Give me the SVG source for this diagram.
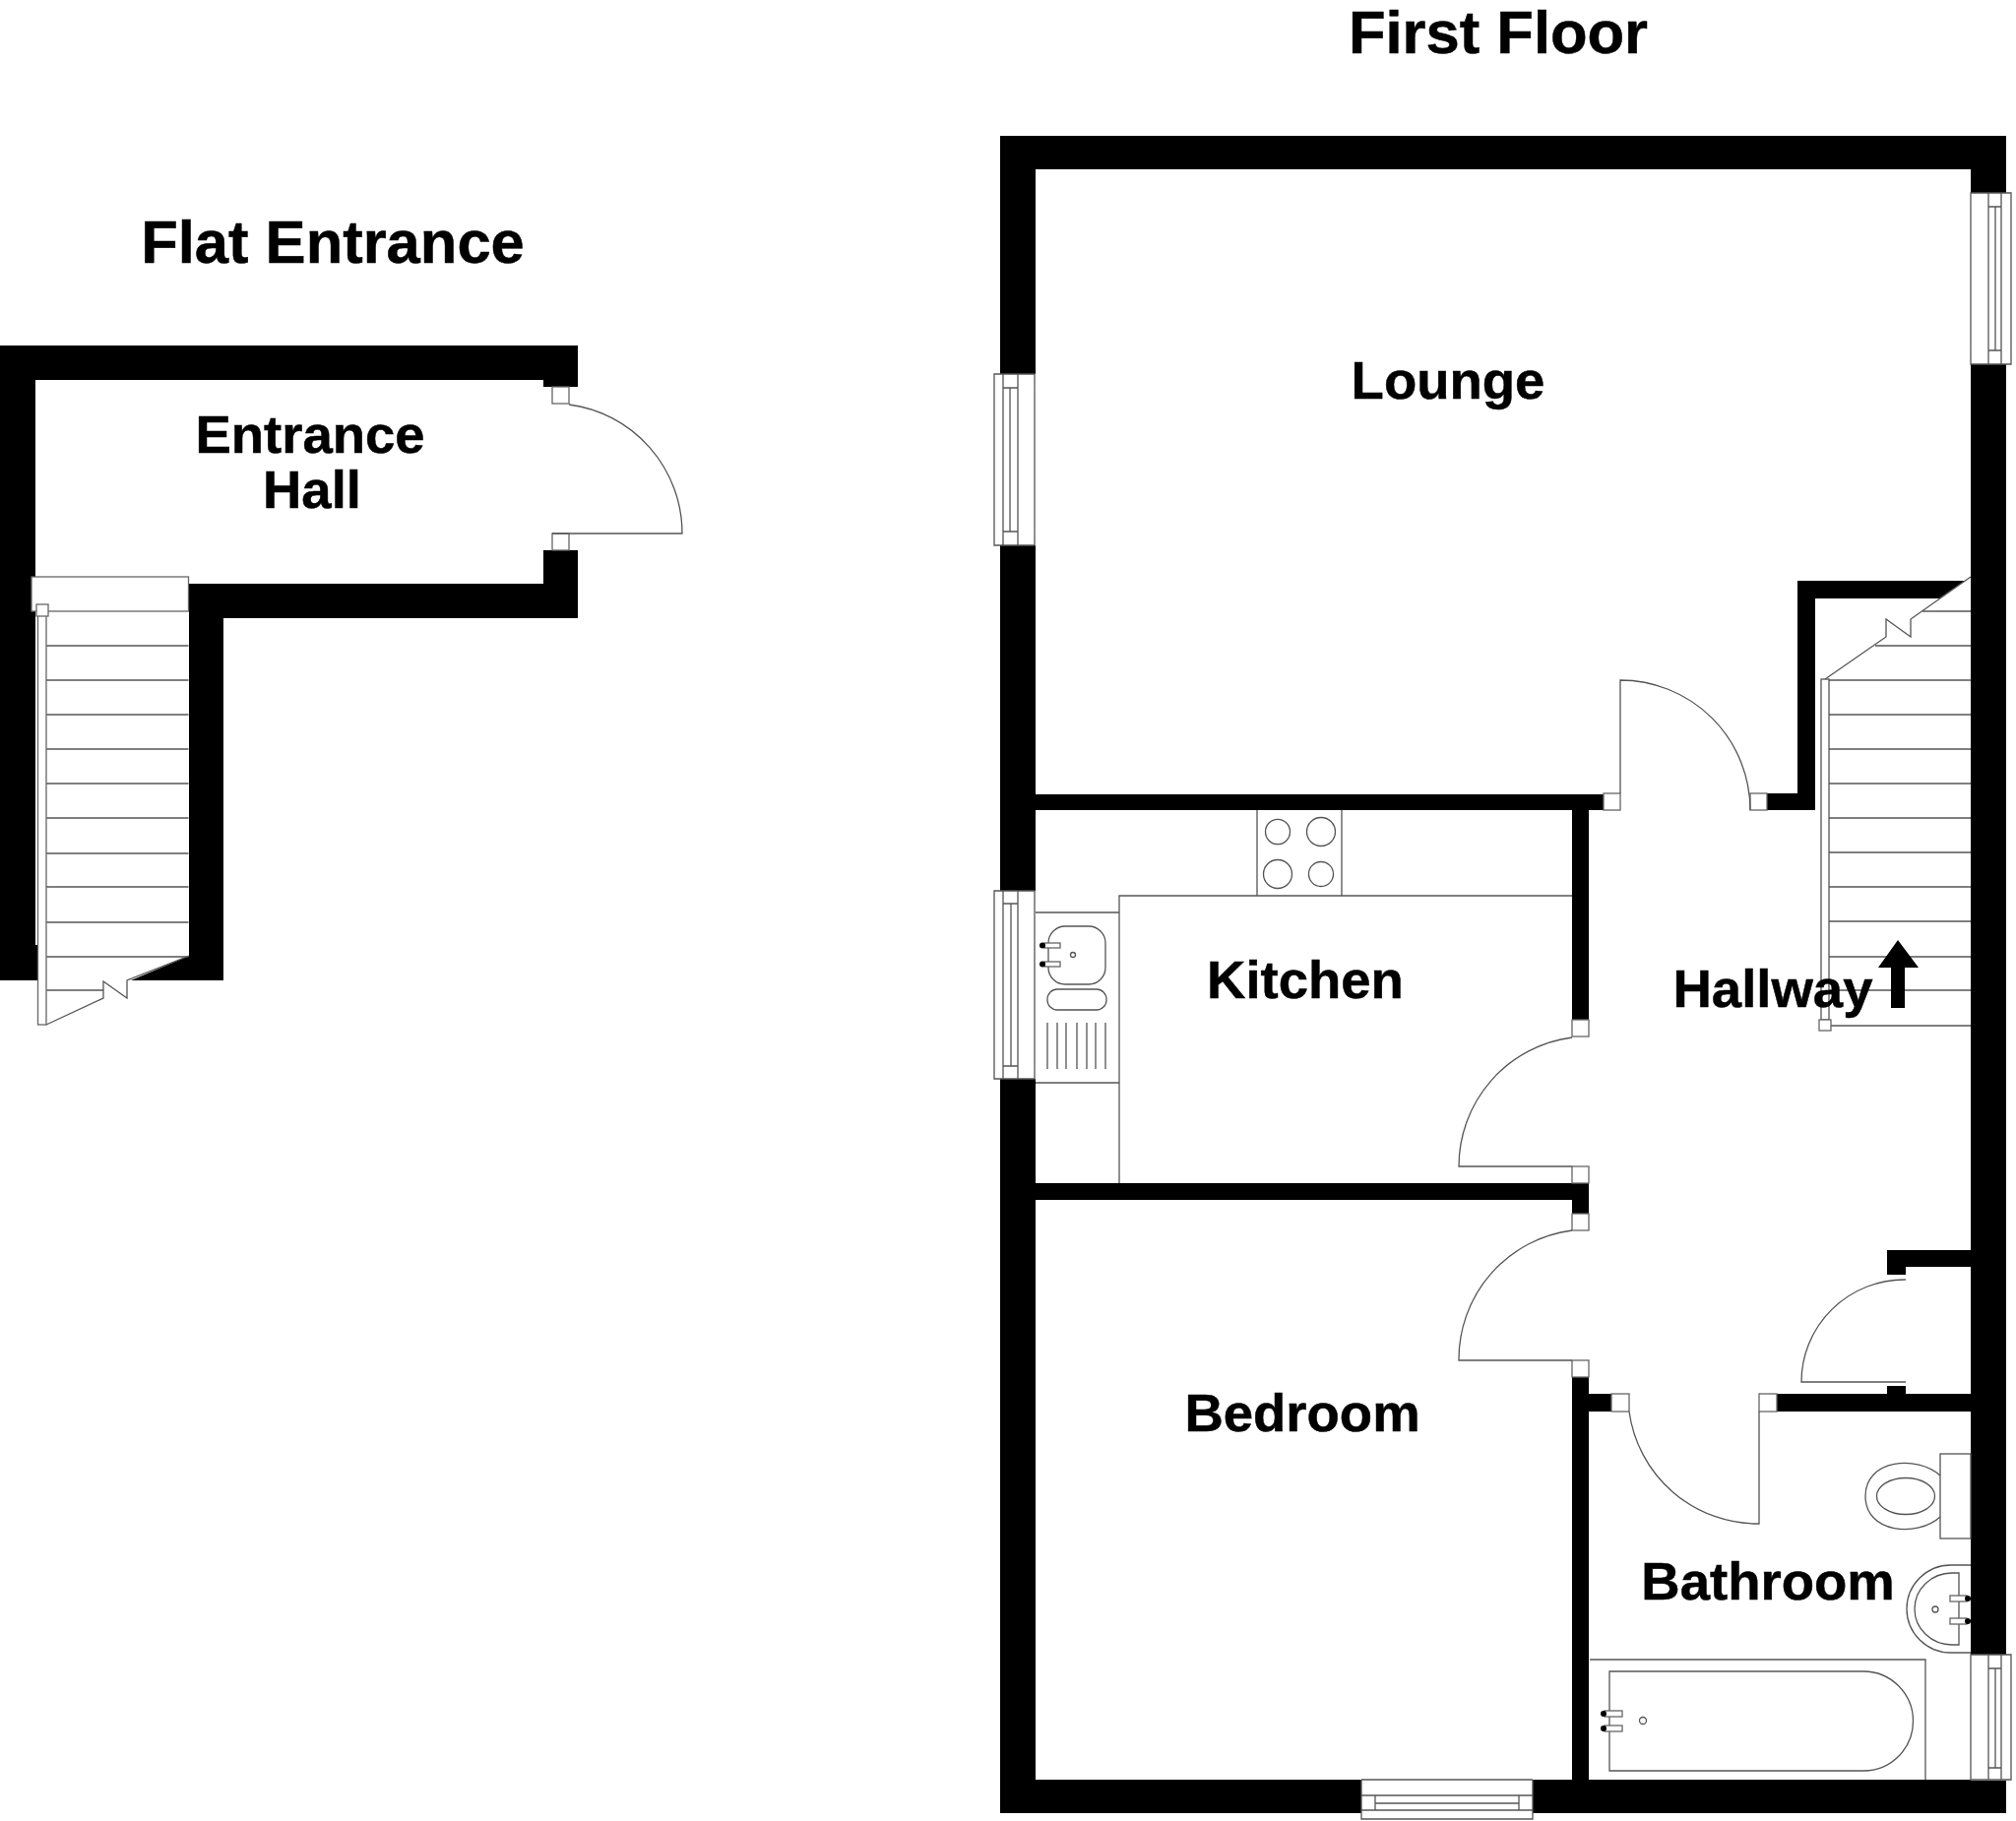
<svg xmlns="http://www.w3.org/2000/svg" width="2048" height="1850" viewBox="0 0 2048 1850">
<style>
.w{fill:#000;stroke:none}
.l{fill:none;stroke:#555;stroke-width:1.3}
.f{fill:#fff;stroke:#666;stroke-width:1.3}
.d{fill:#000;stroke:none}
text{font-family:"Liberation Sans",Arial,sans-serif;font-weight:700;fill:#000;stroke:#000;stroke-width:.5;text-anchor:middle}
.t{font-size:61.500px}
.r{font-size:54.500px}
</style>
<rect width="2048" height="1850" fill="#fff"/>

<g id="flat-entrance">
<path class="w" d="M0 351H587V393H552V386H36V960H38V996H0Z"/>
<path class="w" d="M192 593H552V559H587V628H227V996H133L192 971Z"/>
<rect class="f" x="561" y="393" width="17" height="17"/>
<rect class="f" x="561" y="542" width="17" height="17"/>
<path class="l" d="M578 411A132 132 0 0 1 693 542H561"/>
<g id="flat-stairs">
<rect class="f" x="32" y="586" width="159.500" height="35"/>
<path class="l" d="M47 656H191.500M47 691H191.500M47 726H191.500M47 761H191.500M47 796H191.500M47 831H191.500M47 867H191.500M47 901H191.500M47 937H191.500M47 972H191.500M47 1006H105"/>
<rect class="f" x="38.500" y="625" width="8.500" height="416"/>
<rect class="f" x="37" y="614" width="12" height="12"/>
<path class="l" d="M47 1041L105 1014V997L129 1014V996L192 971"/>
</g>
</g>

<g id="walls">
<rect class="w" x="1016" y="138" width="1022" height="34"/>
<rect class="w" x="1016" y="138" width="36" height="1704"/>
<rect class="w" x="2002" y="138" width="36" height="1704"/>
<rect class="w" x="1016" y="1808" width="1022" height="34"/>
<rect class="w" x="1052" y="807" width="577" height="16"/>
<rect class="w" x="1597" y="823" width="17" height="213"/>
<rect class="w" x="1052" y="1202" width="562" height="17"/>
<rect class="w" x="1597" y="1219" width="17" height="14"/>
<rect class="w" x="1597" y="1399" width="17" height="409"/>
<rect class="w" x="1614" y="1416" width="23" height="18"/>
<rect class="w" x="1805" y="1416" width="197" height="18"/>
<rect class="w" x="1917" y="1408" width="19" height="8"/>
<path class="w" d="M1917 1270H2002V1287H1936V1295H1917Z"/>
<path class="w" d="M1826 590H1996L1970 608H1844V823H1795V806H1826Z"/>
</g>

<g id="windows">
<g id="win-lounge-left">
<rect fill="#fff" x="1010" y="380" width="42" height="174"/>
<path class="l" d="M1010 380H1051V554H1010ZM1019 380V554M1034 380V554M1026 394V540M1019 394H1034M1019 540H1034"/>
</g>
<g id="win-lounge-right">
<rect fill="#fff" x="2002" y="196" width="41" height="174"/>
<path class="l" d="M2002 196H2043V370H2002ZM2020 196V370M2033 196V370M2027 210V356M2020 210H2033M2020 356H2033"/>
</g>
<g id="win-kitchen">
<rect fill="#fff" x="1010" y="905" width="42" height="191"/>
<path class="l" d="M1010 905H1051V1096H1010ZM1019 905V1096M1034 905V1096M1027 918V1083M1019 918H1034M1019 1083H1034"/>
</g>
<g id="win-bedroom">
<rect fill="#fff" x="1383" y="1807" width="174" height="41"/>
<path class="l" d="M1383 1808V1848H1557V1808M1383 1808H1557M1383 1824H1557M1383 1839H1557M1397 1832H1543M1397 1824V1839M1543 1824V1839"/>
</g>
<g id="win-bath">
<rect fill="#fff" x="2002" y="1681" width="41" height="128"/>
<path class="l" d="M2002 1681H2043V1808H2002ZM2020 1681V1808M2033 1681V1808M2027 1695V1796M2020 1695H2033M2020 1796H2033"/>
</g>
</g>

<g id="doors">
<g id="door-lounge">
<rect class="f" x="1629" y="806" width="17" height="17"/>
<rect class="f" x="1778" y="806" width="17" height="17"/>
<path class="l" d="M1646 806V691A132 132 0 0 1 1778 823"/>
</g>
<g id="door-kitchen">
<rect class="f" x="1597" y="1036" width="17" height="17"/>
<rect class="f" x="1597" y="1185" width="17" height="17"/>
<path class="l" d="M1597 1054A132 132 0 0 0 1482 1185H1597"/>
</g>
<g id="door-bedroom">
<rect class="f" x="1597" y="1233" width="17" height="17"/>
<rect class="f" x="1597" y="1382" width="17" height="17"/>
<path class="l" d="M1597 1250A132 132 0 0 0 1482 1382H1597"/>
</g>
<g id="door-bathroom">
<rect class="f" x="1637" y="1416" width="18" height="18"/>
<rect class="f" x="1787" y="1416" width="18" height="18"/>
<path class="l" d="M1655 1434A132 132 0 0 0 1787 1548V1434"/>
</g>
<g id="door-cupboard">
<path class="l" d="M1936 1300A105 104 0 0 0 1830 1404H1936"/>
</g>
</g>

<g id="stairs">
<path class="l" d="M1858 691H2002M1858 726H2002M1858 761H2002M1858 796H2002M1858 831H2002M1858 866H2002M1858 901H2002M1858 936H2002M1858 972H2002M1858 1006H2002M1860 1042H2002M1953 621H2002M1905 656H2002"/>
<rect class="l" x="1850" y="690" width="8" height="346"/>
<rect class="f" x="1848" y="1036" width="12" height="11"/>
<path class="l" d="M2002 586L1941 629V647L1916 629V647L1854 690"/>
<path id="up-arrow" class="w" d="M1928 955L1949 983H1935V1024H1921V983H1908Z"/>
</g>

<g id="kitchen-fittings">
<path class="l" d="M1137 1202V910H1597M1277 823V910M1363 823V910"/>
<ellipse class="l" cx="1298" cy="845" rx="12.500" ry="12.700"/>
<ellipse class="l" cx="1342" cy="845" rx="14.500" ry="14.500"/>
<ellipse class="l" cx="1298" cy="888" rx="14.500" ry="14.500"/>
<ellipse class="l" cx="1342" cy="888" rx="12.500" ry="12.500"/>
<path class="l" d="M1052 927H1137M1052 1100H1137"/>
<rect class="l" x="1065" y="941" width="58" height="59" rx="17"/>
<rect class="l" x="1064" y="1005" width="60" height="21" rx="10"/>
<circle class="l" cx="1090" cy="970" r="2.500"/>
<rect class="f" x="1061" y="958" width="16" height="5"/>
<rect class="f" x="1061" y="977" width="16" height="5"/>
<circle class="d" cx="1059" cy="960.500" r="3"/>
<circle class="d" cx="1059" cy="979.500" r="3"/>
<path class="l" d="M1064 1039V1086M1074 1039V1086M1083 1039V1086M1094 1039V1086M1104 1039V1086M1113 1039V1086M1123 1039V1086"/>
</g>

<g id="bathroom-fittings">
<rect class="l" x="1971" y="1477" width="31" height="86"/>
<path class="l" d="M1971 1499C1948 1478 1895 1482 1895 1520C1895 1558 1948 1562 1971 1541"/>
<ellipse class="l" cx="1936" cy="1520" rx="29.500" ry="18.500"/>
<path class="l" d="M2002 1590H1982A45 44.500 0 0 0 1982 1679H2002"/>
<path class="l" d="M1990 1598V1671H1983A38 36.500 0 0 1 1983 1598Z"/>
<circle class="l" cx="1966" cy="1635" r="3"/>
<rect class="f" x="1981" y="1621" width="17" height="6"/>
<rect class="f" x="1981" y="1644" width="17" height="6"/>
<circle class="d" cx="1999" cy="1624" r="3"/>
<circle class="d" cx="1999" cy="1647" r="3"/>
<path class="l" d="M1615 1686H1956V1808"/>
<path class="l" d="M1635 1698H1893A50.500 50.500 0 0 1 1893 1799H1635Z"/>
<rect class="f" x="1630" y="1738" width="18" height="6"/>
<rect class="f" x="1630" y="1753" width="18" height="6"/>
<circle class="d" cx="1629" cy="1741" r="3"/>
<circle class="d" cx="1629" cy="1756" r="3"/>
<circle class="l" cx="1669" cy="1748" r="3.500"/>
</g>

<g id="labels">
<text class="t" x="1522" y="54">First Floor</text>
<text class="t" x="338" y="267">Flat Entrance</text>
<text class="r" x="315" y="460">Entrance</text>
<text class="r" x="317" y="516">Hall</text>
<text class="r" x="1471" y="405">Lounge</text>
<text class="r" x="1326" y="1014">Kitchen</text>
<text class="r" x="1801" y="1023">Hallway</text>
<text class="r" x="1323" y="1454">Bedroom</text>
<text class="r" x="1796" y="1625">Bathroom</text>
</g>
</svg>
